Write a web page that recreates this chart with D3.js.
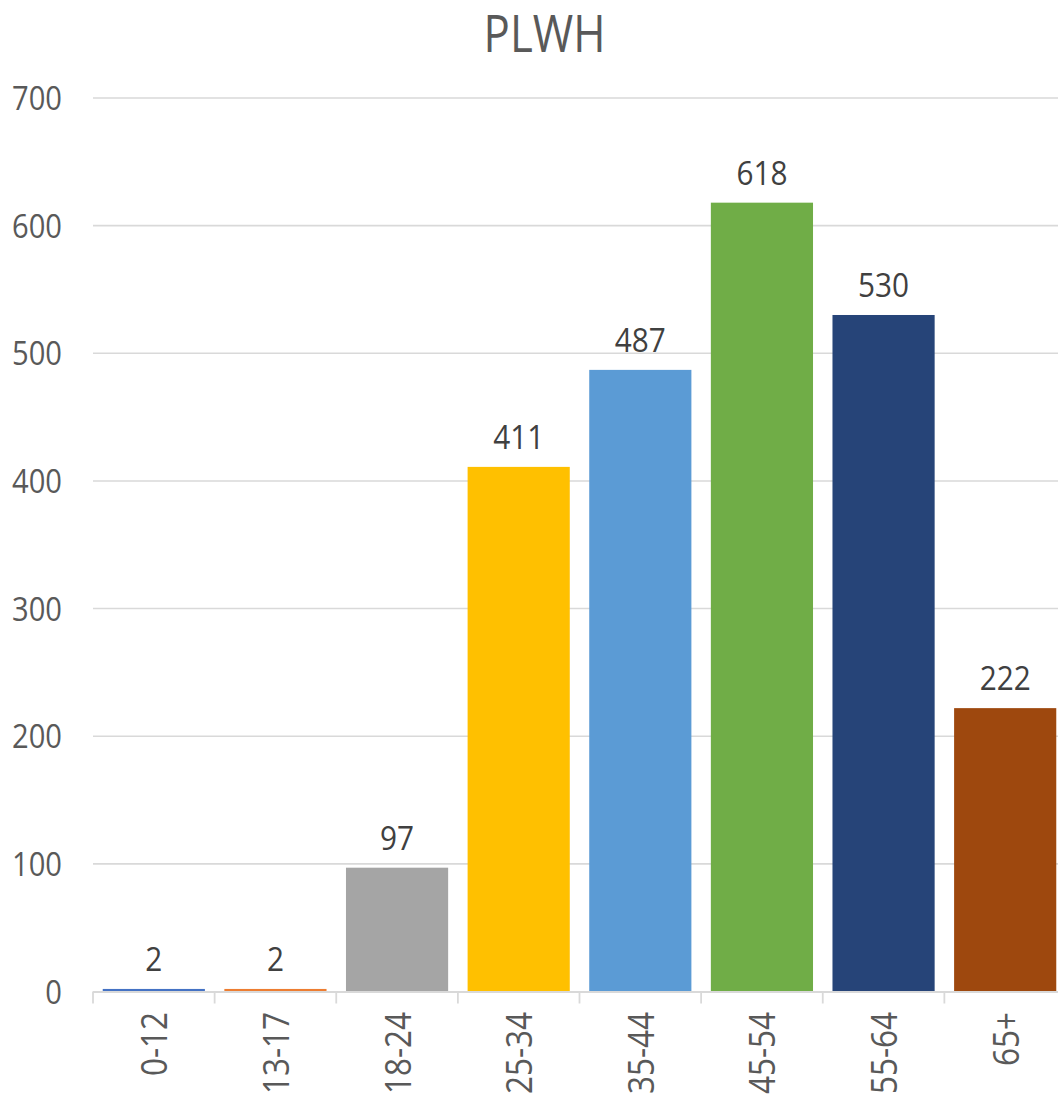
<!DOCTYPE html>
<html>
<head>
<meta charset="utf-8">
<script src="https://cdn.jsdelivr.net/npm/d3@7"></script>
<style>
  html, body { margin: 0; padding: 0; background: #ffffff; }
  svg { display: block; }
  text { font-family: "Open Sans", "Noto Sans", sans-serif; }
</style>
</head>
<body>
<svg id="chart" width="1058" height="1096"></svg>
<script>
const categories = ["0-12", "13-17", "18-24", "25-34", "35-44", "45-54", "55-64", "65+"];
const values = [2, 2, 97, 411, 487, 618, 530, 222];
const barColors = ["#4472C4", "#ED7D31", "#A5A5A5", "#FFC000", "#5B9BD5", "#70AD47", "#264478", "#9E480E"];
const yTicks = [0, 100, 200, 300, 400, 500, 600, 700];
const title = "PLWH";

const W = 1058, H = 1096;
const svg = d3.select("#chart");

const plotLeft = 93, plotRight = 1066, plotBottom = 991.5, plotTop = 98;

const x = d3.scaleBand().domain(categories).range([plotLeft, plotRight])
  .paddingInner(0.16).paddingOuter(0.08);
const y = d3.scaleLinear().domain([0, 700]).range([plotBottom, plotTop]);

// gridlines
svg.append("g").selectAll("line").data(yTicks.filter(d => d > 0)).join("line")
  .attr("x1", plotLeft).attr("x2", W)
  .attr("y1", d => y(d)).attr("y2", d => y(d))
  .attr("stroke", "#d9d9d9").attr("stroke-width", 1.6);

// y labels
svg.append("g").selectAll("text").data(yTicks).join("text")
  .attr("transform", d => `translate(62,${y(d) + 12}) scale(0.87,1)`)
  .attr("text-anchor", "end")
  .attr("font-size", 33.5)
  .attr("fill", "#595959")
  .text(d => d);

// bars
svg.append("g").selectAll("rect").data(categories).join("rect")
  .attr("x", d => x(d))
  .attr("width", x.bandwidth())
  .attr("y", (d, i) => y(values[i]))
  .attr("height", (d, i) => y(0) - y(values[i]))
  .attr("fill", (d, i) => barColors[i]);

// x axis line
svg.append("line")
  .attr("x1", plotLeft).attr("x2", W)
  .attr("y1", plotBottom + 0.5).attr("y2", plotBottom + 0.5)
  .attr("stroke", "#d9d9d9").attr("stroke-width", 1.8);

// tick marks at band boundaries
const step = x.step();
const boundaries = categories.map(d => x(d) - x.paddingOuter() * step);
svg.append("g").selectAll("line").data(boundaries).join("line")
  .attr("x1", d => d).attr("x2", d => d)
  .attr("y1", plotBottom).attr("y2", plotBottom + 12)
  .attr("stroke", "#d9d9d9").attr("stroke-width", 1.8);

// data labels
svg.append("g").selectAll("text").data(categories).join("text")
  .attr("transform", (d, i) => `translate(${x(d) + x.bandwidth() / 2},${y(values[i]) - 18}) scale(0.93,1)`)
  .attr("text-anchor", "middle")
  .attr("font-size", 32)
  .attr("fill", "#404040")
  .text((d, i) => values[i]);

// category labels (rotated)
svg.append("g").selectAll("text").data(categories).join("text")
  .attr("transform", d => `translate(${x(d) + x.bandwidth() / 2 + 13.5},1012) rotate(-90) scale(0.85,1)`)
  .attr("text-anchor", "end")
  .attr("font-size", 37)
  .attr("fill", "#595959")
  .text(d => d);

// title
svg.append("text")
  .attr("transform", `translate(544.5,52) scale(0.85,1)`)
  .attr("text-anchor", "middle")
  .attr("font-size", 51.5)
  .attr("fill", "#595959")
  .text(title);
</script>
</body>
</html>
